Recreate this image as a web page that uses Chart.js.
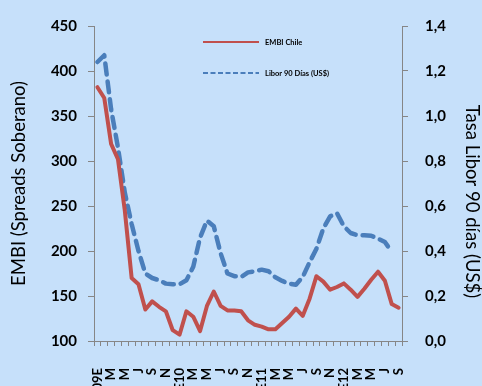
<!DOCTYPE html>
<html>
<head>
<meta charset="utf-8">
<script src="https://cdn.jsdelivr.net/npm/chart.js@4/dist/chart.umd.min.js"></script>
<style>
  html, body { margin: 0; padding: 0; background: #c6e0fa; }
  canvas { display: block; }
</style>
</head>
<body>
<canvas id="chart" width="482" height="386"></canvas>
<script>
// monthly, Jan 2009 - Sep 2012 (label every other month)
const months = ['09E','','M','','M','','J','','S','','N','',
  'E10','','M','','M','','J','','S','','N','',
  'E11','','M','','M','','J','','S','','N','',
  'E12','','M','','M','','J','','S'];

const embiChile = [382, 370, 319, 302, 245, 170, 163, 135, 144, 138, 133, 112,
  107, 133, 127, 111, 139, 155, 139, 134, 134, 133, 123, 118,
  116, 113, 113, 120, 127, 136, 128, 147, 172, 166, 157, 160,
  164, 157, 149, 158, 168, 177, 167, 141, 137];

const libor90 = [1.24, 1.27, 1.03, 0.86, 0.66, 0.52, 0.40, 0.30, 0.28, 0.27, 0.255, 0.252,
  0.252, 0.27, 0.33, 0.46, 0.535, 0.51, 0.39, 0.30, 0.288, 0.285, 0.305, 0.31,
  0.317, 0.31, 0.283, 0.267, 0.255, 0.25, 0.285, 0.35, 0.41, 0.50, 0.554, 0.568,
  0.51, 0.48, 0.47, 0.47, 0.468, 0.455, 0.44, 0.397, null];

const embiTicks = { min: 100, max: 450, step: 50 };
const liborTicks = { min: 0, max: 1.4, step: 0.2 };

const axisGrey = '#868686';
const fontName = 'Lato, "Liberation Sans", sans-serif';
const rightTitle = 'Tasa Libor 90 días (US$)';

// legend drawn inside the plot area, like the original
const innerLegend = {
  id: 'innerLegend',
  afterDraw(chart) {
    const ctx = chart.ctx;
    const area = chart.chartArea;
    const x0 = area.left + 109;
    const rows = [area.top + 16, area.top + 47];
    ctx.save();
    ctx.font = 'bold 7.5px ' + fontName;
    ctx.textBaseline = 'middle';
    chart.data.datasets.forEach((ds, i) => {
      const y = rows[i];
      ctx.beginPath();
      ctx.strokeStyle = ds.borderColor;
      ctx.lineWidth = 2;
      ctx.setLineDash(ds.borderDash && ds.borderDash.length ? [5, 2.5] : []);
      ctx.moveTo(x0, y);
      ctx.lineTo(x0 + 56, y);
      ctx.stroke();
      ctx.setLineDash([]);
      ctx.fillStyle = '#000';
      ctx.fillText(ds.label, x0 + 62, y + 0.5);
    });

    // right axis title sits a bit lower than the middle in the original
    ctx.translate(chart.width - 10, (area.top + area.bottom) / 2 + 18);
    ctx.rotate(Math.PI / 2);
    ctx.font = '18.5px ' + fontName;
    ctx.textAlign = 'center';
    ctx.textBaseline = 'middle';
    ctx.fillText(rightTitle, 0, 0);
    ctx.restore();
  }
};

new Chart(document.getElementById('chart').getContext('2d'), {
  type: 'line',
  data: {
    labels: months,
    datasets: [{
      label: 'EMBI Chile',
      data: embiChile,
      yAxisID: 'y',
      borderColor: '#c0504d',
      borderWidth: 4,
      pointRadius: 0,
      tension: 0,
      borderJoinStyle: 'round',
      borderCapStyle: 'round'
    }, {
      label: 'Libor 90 Días (US$)',
      data: libor90,
      yAxisID: 'y1',
      borderColor: '#4a7ebb',
      borderWidth: 4.5,
      borderDash: [11, 7],
      borderCapStyle: 'round',
      borderJoinStyle: 'round',
      pointRadius: 0,
      tension: 0
    }]
  },
  options: {
    responsive: false,
    animation: false,
    layout: { padding: { top: 20, left: 0, right: 0, bottom: 0 } },
    plugins: {
      legend: { display: false },
      tooltip: { enabled: false }
    },
    scales: {
      x: {
        offset: true,
        border: { display: true, color: axisGrey, width: 1 },
        grid: { display: true, drawOnChartArea: false, offset: true, tickLength: 5, color: axisGrey },
        ticks: {
          autoSkip: false,
          maxRotation: 90,
          minRotation: 90,
          padding: 22,
          color: '#000',
          font: { family: fontName, size: 13, weight: 'bold' }
        },
        afterFit(scale) { scale.height = 45; }
      },
      y: {
        position: 'left',
        min: embiTicks.min,
        max: embiTicks.max,
        border: { display: true, color: axisGrey, width: 1 },
        grid: { display: true, drawOnChartArea: false, tickLength: 6, color: axisGrey },
        ticks: {
          stepSize: embiTicks.step,
          padding: 11,
          color: '#000',
          font: { family: fontName, size: 15, weight: 'bold' }
        },
        title: {
          display: true,
          text: 'EMBI (Spreads Soberano)',
          color: '#000',
          padding: { top: 8, bottom: 0 },
          font: { family: fontName, size: 18.5 }
        },
        afterFit(scale) { scale.width = 94; }
      },
      y1: {
        position: 'right',
        min: liborTicks.min,
        max: liborTicks.max,
        border: { display: true, color: axisGrey, width: 1 },
        grid: { display: true, drawOnChartArea: false, tickLength: 6, color: axisGrey },
        ticks: {
          stepSize: liborTicks.step,
          padding: 17,
          color: '#000',
          font: { family: fontName, size: 15, weight: 'bold' },
          callback: v => Number(v).toFixed(1).replace('.', ',')
        },
        afterFit(scale) { scale.width = 80; }
      }
    }
  },
  plugins: [innerLegend]
});
</script>
</body>
</html>
